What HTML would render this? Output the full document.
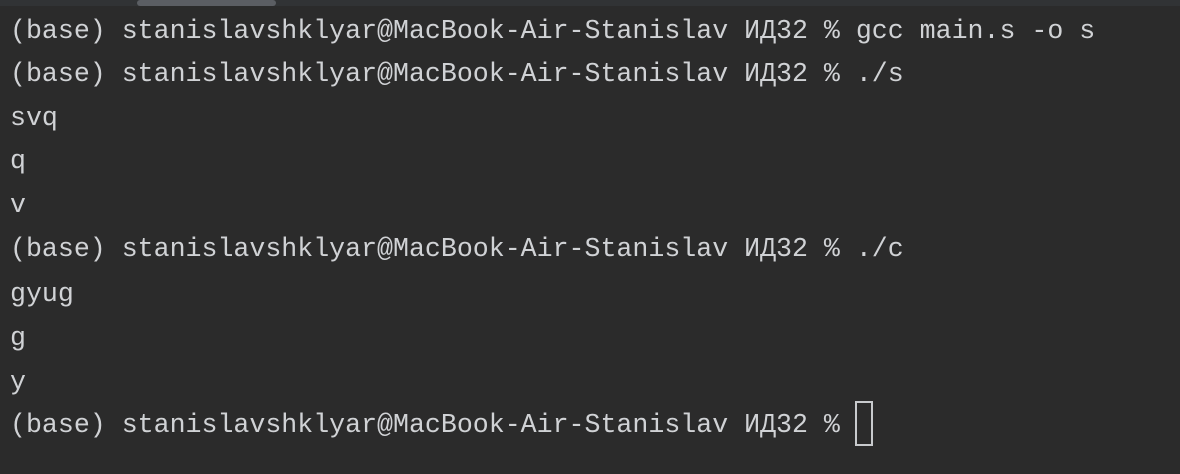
<!DOCTYPE html>
<html><head><meta charset="utf-8"><style>
html,body{margin:0;padding:0;}
body{width:1180px;height:474px;background:#2b2b2b;position:relative;overflow:hidden;}
.top{position:absolute;left:0;top:0;width:1180px;height:6px;background:#313335;}
.thumb{position:absolute;left:137px;top:0;width:139px;height:6px;border-radius:3px;background:#5b5e63;}
.l{position:absolute;left:10px;font-family:"Liberation Mono","DejaVu Sans Mono",monospace;font-size:26.6px;line-height:44px;height:44px;color:#d0d2d5;white-space:pre;}
.cur{position:absolute;left:855px;top:401px;width:18px;height:45px;border:2px solid #c8cacd;box-sizing:border-box;}
</style></head><body>
<div class="top"></div><div class="thumb"></div>
<div class="l" style="top:9px">(base) stanislavshklyar@MacBook-Air-Stanislav ИД32 % gcc main.s -o s</div>
<div class="l" style="top:52px">(base) stanislavshklyar@MacBook-Air-Stanislav ИД32 % ./s</div>
<div class="l" style="top:96px">svq</div>
<div class="l" style="top:139px">q</div>
<div class="l" style="top:183px">v</div>
<div class="l" style="top:227px">(base) stanislavshklyar@MacBook-Air-Stanislav ИД32 % ./c</div>
<div class="l" style="top:272px">gyug</div>
<div class="l" style="top:316px">g</div>
<div class="l" style="top:360px">y</div>
<div class="l" style="top:403px">(base) stanislavshklyar@MacBook-Air-Stanislav ИД32 %</div>
<div class="cur"></div>
</body></html>
